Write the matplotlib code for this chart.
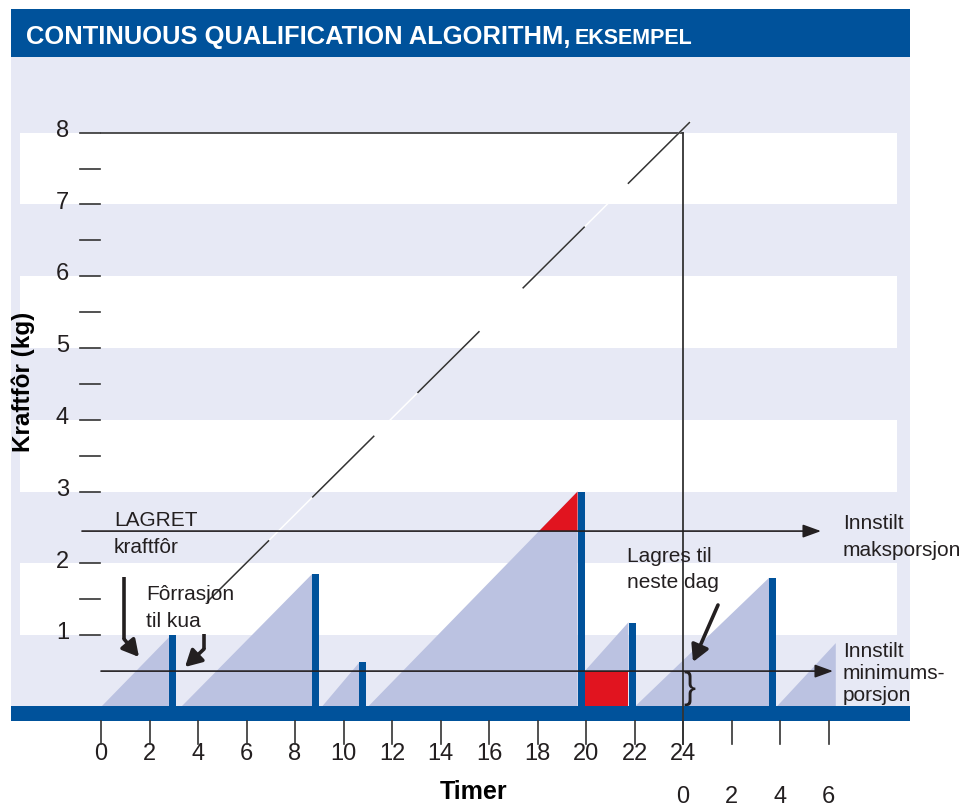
import matplotlib
matplotlib.use("Agg")
import matplotlib.pyplot as plt
from matplotlib.patches import Rectangle, Polygon

plt.rcParams['font.family'] = ['Liberation Sans', 'DejaVu Sans']
plt.rcParams['lines.scale_dashes'] = False

# ---- data -------------------------------------------------------------
hour_ticks = list(range(0, 25, 2))
next_day_ticks = [26, 28, 30]
next_day_labels = ['0', '2', '4', '6']
next_day_label_pos = [24, 26, 28, 30]
kg_major = [1, 2, 3, 4, 5, 6, 7, 8]
kg_minor = [1.5, 3.5, 4.5, 5.5, 6.5, 7.5]
band_lo = [1, 3, 5, 7]
band_hi = [2, 4, 6, 8]

# feed ramps: start hour, end hour, amount at end, ramp base
ramp_start = [0.0, 3.3, 9.1, 11.0, 19.95, 22.0, 27.85]
ramp_end = [2.8, 8.7, 10.65, 19.65, 21.75, 27.55, 30.3]
ramp_top = [0.97, 1.85, 0.62, 3.0, 1.18, 1.8, 0.89]
ramp_base = [0, 0, 0, 0, 0.5, 0, 0]

# feed visits (blue bars)
visit_time = [2.95, 8.85, 10.8, 19.8, 21.9, 27.7]
visit_amount = [1.0, 1.85, 0.62, 3.0, 1.17, 1.8]

max_portion = 2.45
min_portion = 0.5
carry_start, carry_end = 19.95, 21.75
day_end = 24
day_max = 8

# ---- style --------------------------------------------------------------
BLUE = '#00529b'
LAVENDER = '#e7e9f5'
RAMP = '#bbc2e1'
RED = '#e1141f'
INK = '#231f20'
LINE = '#333333'

X0, XS = 101, 24.25   # pixel of hour 0, pixels per hour
Y0, YS = 708, 71.8    # pixel of 0 kg, pixels per kg


def px(x, y):
    """Pixel position -> data coords."""
    return (x - X0) / XS, (Y0 - y) / YS


fig = plt.figure(figsize=(9.71, 8.12), dpi=100)
ax = fig.add_axes([0, 0, 1, 1])
ax.set_xlim(px(0, 0)[0], px(971, 0)[0])
ax.set_ylim(px(0, 812)[1], px(0, 0)[1])
ax.axis('off')


def rect_px(x1, y1, x2, y2, **kw):
    (a, b), (c, d) = px(x1, y1), px(x2, y2)
    ax.add_patch(Rectangle((a, d), c - a, b - d, lw=0, **kw))


# background panel + title bar
rect_px(11, 58, 910, 722, color=LAVENDER, zorder=0)
rect_px(11, 10, 910, 58, color=BLUE, zorder=0)
ax.text(*px(26, 44), 'CONTINUOUS QUALIFICATION ALGORITHM,', color='white',
        fontsize=18.4, fontweight='bold', va='baseline', ha='left')
ax.text(*px(575, 44), 'EKSEMPEL', color='white',
        fontsize=15.5, fontweight='bold', va='baseline', ha='left')

# white bands
bx0, bx1 = px(20, 0)[0], px(897, 0)[0]
for lo, hi in zip(band_lo, band_hi):
    ax.add_patch(Rectangle((bx0, lo), bx1 - bx0, hi - lo, color='white', lw=0, zorder=1))

# ramps
for s, e, top, base in zip(ramp_start, ramp_end, ramp_top, ramp_base):
    ax.add_patch(Polygon([(s, base), (e, top), (e, base)], closed=True,
                         color=RAMP, lw=0, zorder=2))

# red parts: above max portion on the big ramp, carried over below min
i = ramp_top.index(max(ramp_top))
s, e, top = ramp_start[i], ramp_end[i], ramp_top[i]
xcut = s + (e - s) * max_portion / top
ax.add_patch(Polygon([(xcut, max_portion), (e, top), (e, max_portion)],
                     closed=True, color=RED, lw=0, zorder=3))
ax.add_patch(Rectangle((carry_start, 0), carry_end - carry_start, min_portion,
                       color=RED, lw=0, zorder=3))

# visits
ax.bar(visit_time, visit_amount, width=0.29, color=BLUE, zorder=4)
rect_px(11, 707, 910, 722, color=BLUE, zorder=4)

# frame lines at 8 kg / 24 h
ax.plot([0, day_end], [day_max, day_max], color=LINE, lw=1.2, zorder=5)
ax.plot([day_end, day_end], [day_max, px(0, 745)[1]], color=LINE, lw=1.3, zorder=6)

# diagonal (white under black dashes)
d0, d1 = px(207, 603), px(690, 123)
ax.plot([d0[0], d1[0]], [d0[1], d1[1]], color='white', lw=1.1, zorder=5)
ax.plot([d0[0], d1[0]], [d0[1], d1[1]], color=LINE, lw=1.1, zorder=5,
        linestyle=(0, (63, 43.8)))

# max / min portion lines with arrows
head = dict(arrowstyle='-|>,head_length=0.55,head_width=0.2', color=INK,
            lw=1.2, shrinkA=0, shrinkB=0, mutation_scale=20)
ax.annotate('', xy=(px(821, 0)[0], max_portion), xytext=(px(82, 0)[0], max_portion),
            arrowprops=head, zorder=6)
ax.annotate('', xy=(px(833, 0)[0], min_portion), xytext=(0, min_portion),
            arrowprops=head, zorder=6)

# thick pointer arrows
thick = dict(arrowstyle='-|>,head_length=0.55,head_width=0.3', color=INK,
             lw=2.6, shrinkA=0, shrinkB=0, mutation_scale=18)
for pts in ([(124, 578), (124, 640), (139, 658)],
            [(204, 635), (204, 650), (185, 668)],
            [(718, 606), (693, 663)]):
    xy = [px(*p) for p in pts]
    if len(xy) > 2:
        ax.plot([q[0] for q in xy[:2]], [q[1] for q in xy[:2]], color=INK,
                lw=2.6, solid_capstyle='butt', zorder=7)
    ax.annotate('', xy=xy[-1], xytext=xy[-2], arrowprops=thick, zorder=7)

# brace
ax.text(*px(689, 689), '}', fontsize=26, color=INK, ha='center', va='center', zorder=7)

# y axis
yt0, yt1 = px(80, 0)[0], px(100, 0)[0]
for v in kg_major + kg_minor:
    ax.plot([yt0, yt1], [v, v], color=LINE, lw=1.2, zorder=5)
for v in kg_major:
    ax.text(px(69, 0)[0], v + 0.04, str(v), fontsize=17, color=INK,
            ha='right', va='center')
ax.text(*px(23, 382), 'Kraftfôr (kg)', rotation=90, fontsize=17.5,
        fontweight='bold', color='black', ha='center', va='center')

# x axis
xt0, xt1 = px(0, 722)[1], px(0, 745)[1]
for h in hour_ticks + next_day_ticks:
    ax.plot([h, h], [xt0, xt1], color=LINE, lw=1.2, zorder=5)
for h in hour_ticks:
    ax.text(h, px(0, 754)[1], str(h), fontsize=17, color=INK, ha='center', va='center')
for h, lab in zip(next_day_label_pos, next_day_labels):
    ax.text(h, px(0, 797)[1], lab, fontsize=17, color=INK, ha='center', va='center')
ax.text(*px(474, 799), 'Timer', fontsize=18, fontweight='bold', color='black',
        ha='center', va='baseline')

# annotations
notes = [
    (114, 526, 'LAGRET'), (114, 553, 'kraftfôr'),
    (146, 600, 'Fôrrasjon'), (146, 627, 'til kua'),
    (627, 562, 'Lagres til'), (627, 588, 'neste dag'),
    (843, 529, 'Innstilt'), (843, 556, 'maksporsjon'),
    (843, 657, 'Innstilt'), (843, 679, 'minimums-'), (843, 701, 'porsjon'),
]
for x, y, s in notes:
    ax.text(*px(x, y), s, fontsize=15, color=INK, ha='left', va='baseline', zorder=8)

fig.savefig('out.png', dpi=100)
